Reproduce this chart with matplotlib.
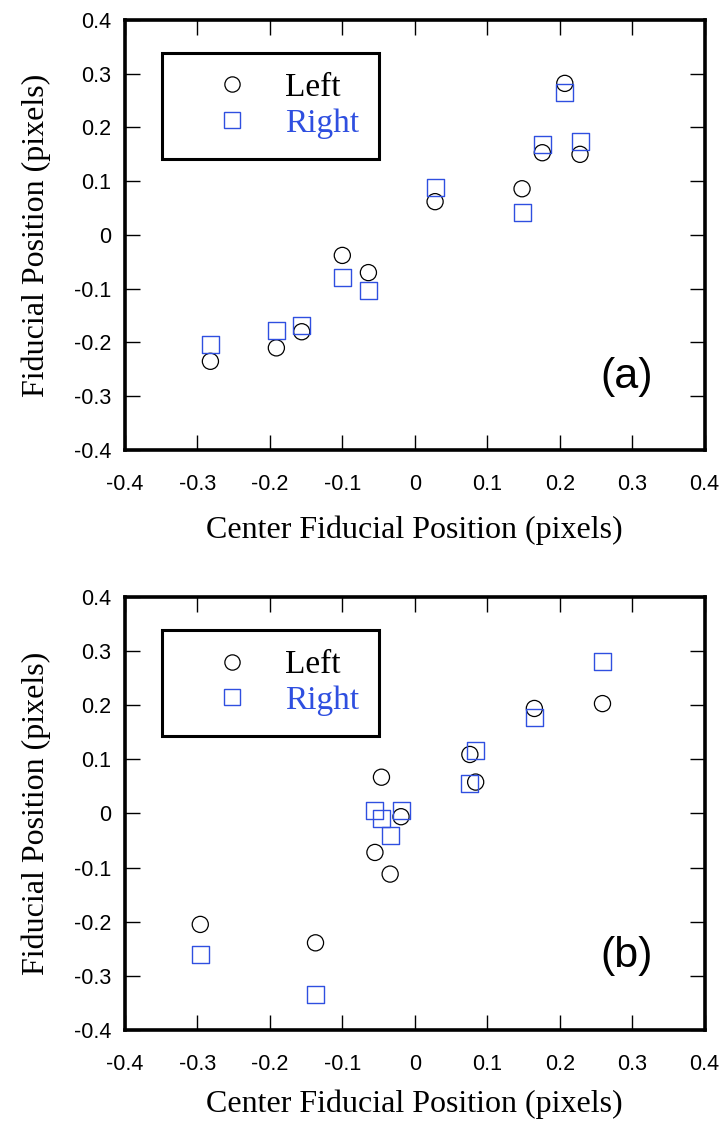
import matplotlib
matplotlib.use("Agg")
import matplotlib.pyplot as plt
from matplotlib.lines import Line2D

# panel (a)
a_left_x = [-0.282, -0.191, -0.156, -0.100, -0.064, 0.028, 0.148, 0.176, 0.207, 0.228]
a_left_y = [-0.235, -0.210, -0.180, -0.038, -0.070, 0.062, 0.086, 0.153, 0.282, 0.150]
a_right_x = [-0.282, -0.191, -0.156, -0.100, -0.064, 0.028, 0.148, 0.176, 0.207, 0.228]
a_right_y = [-0.203, -0.177, -0.168, -0.079, -0.103, 0.088, 0.041, 0.168, 0.265, 0.174]

# panel (b)
b_left_x = [-0.296, -0.137, -0.046, -0.055, -0.034, -0.019, 0.076, 0.084, 0.165, 0.259]
b_left_y = [-0.205, -0.239, 0.067, -0.072, -0.112, -0.006, 0.109, 0.058, 0.194, 0.203]
b_right_x = [-0.296, -0.137, -0.055, -0.046, -0.034, -0.019, 0.076, 0.084, 0.165, 0.259]
b_right_y = [-0.260, -0.334, 0.006, -0.010, -0.041, 0.006, 0.055, 0.116, 0.178, 0.281]

ticks = [-0.4, -0.3, -0.2, -0.1, 0, 0.1, 0.2, 0.3, 0.4]
tick_labels = ["-0.4", "-0.3", "-0.2", "-0.1", "0", "0.1", "0.2", "0.3", "0.4"]

blue = "#2f4fe0"
serif = "Liberation Serif"
sans = "Liberation Sans"

fig = plt.figure(figsize=(7.22, 11.27), dpi=100)


def panel(rect, lx, ly, rx, ry, tag, xlabelpad):
    ax = fig.add_axes(rect)
    ax.scatter(lx, ly, s=135, facecolors="none", edgecolors="black", linewidths=0.9, marker="o", zorder=3)
    ax.scatter(rx, ry, s=150, facecolors="none", edgecolors=blue, linewidths=1.0, marker="s", zorder=3)
    ax.set_xlim(-0.4, 0.4)
    ax.set_ylim(-0.4, 0.4)
    ax.set_xticks(ticks)
    ax.set_yticks(ticks)
    ax.set_xticklabels(tick_labels, fontfamily=sans, fontsize=15.5)
    ax.set_yticklabels(tick_labels, fontfamily=sans, fontsize=15.5)
    ax.tick_params(direction="in", length=11, width=1, top=True, right=True)
    ax.tick_params(axis="x", pad=17)
    ax.tick_params(axis="y", pad=10)
    for s in ax.spines.values():
        s.set_linewidth(2.6)
    ax.set_xlabel("Center Fiducial Position (pixels)", fontfamily=serif, fontsize=23, labelpad=xlabelpad)
    ax.set_ylabel("Fiducial Position (pixels)", fontfamily=serif, fontsize=23, labelpad=16)
    ax.text(0.866, 0.17, tag, transform=ax.transAxes, fontfamily=sans, fontsize=31,
            ha="center", va="center")

    handles = [
        Line2D([], [], ls="none", marker="o", markersize=11, markerfacecolor="none",
               markeredgecolor="black", markeredgewidth=0.9),
        Line2D([], [], ls="none", marker="s", markersize=11, markerfacecolor="none",
               markeredgecolor=blue, markeredgewidth=1.0),
    ]
    leg = ax.legend(handles, ["Left", "Right"], loc="upper left", bbox_to_anchor=(0.064, 0.924),
                    frameon=True, fancybox=False, edgecolor="black", framealpha=1,
                    prop={"family": serif, "size": 24}, labelcolor=["black", blue],
                    borderpad=0.6, labelspacing=0.15, handletextpad=0.1, borderaxespad=0,
                    handlelength=3.0)
    leg.get_frame().set_linewidth(2.2)
    return ax


panel([0.173, 0.6007, 0.803, 0.3816], a_left_x, a_left_y, a_right_x, a_right_y, "(a)", 15)
panel([0.173, 0.0861, 0.803, 0.3842], b_left_x, b_left_y, b_right_x, b_right_y, "(b)", 11)

fig.savefig("out.png", dpi=100)
